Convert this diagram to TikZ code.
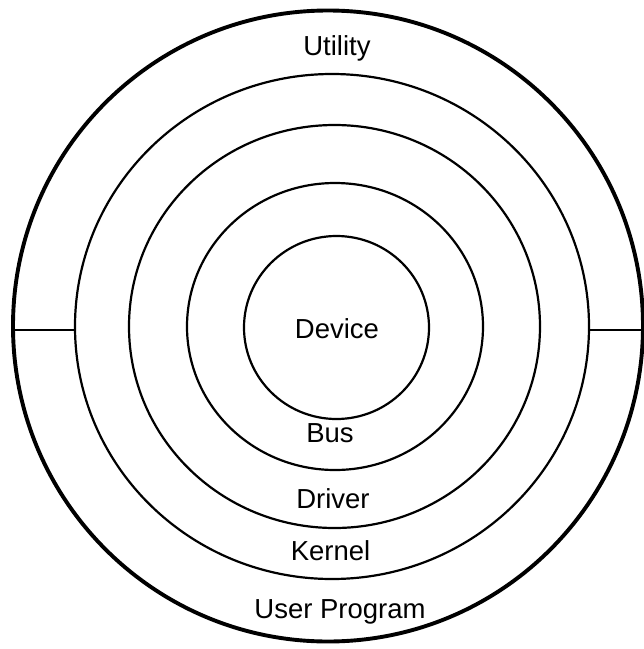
\documentclass[tikz,border=0pt]{standalone}
\usepackage{fontspec}
\setmainfont{Liberation Sans}
\usetikzlibrary{shapes.geometric}
\begin{document}
\begin{tikzpicture}[x=1pt,y=-1pt,
  ring/.style={draw, ellipse, inner sep=0pt, outer sep=0pt, line width=2.2pt},
  outerring/.style={ring, line width=3.9pt},
  lbl/.style={anchor=base, inner sep=0pt, font=\fontsize{27.5}{30}\selectfont},
  divider/.style={line width=2.4pt}]
\useasboundingbox (0,0) rectangle (644,649);
% concentric layers, outermost first
\node[outerring, minimum width=630pt, minimum height=631pt] (user)   at (328,326)   {};
\node[ring, minimum width=514pt, minimum height=505pt]      (kernel) at (332,326.5) {};
\node[ring, minimum width=411pt, minimum height=403pt]      (driver) at (334.5,326.5) {};
\node[ring, minimum width=296pt, minimum height=287pt]      (bus)    at (335,326.5) {};
\node[ring, minimum width=185pt, minimum height=183pt]      (device) at (336.5,327.5) {};
% layer names
\node[lbl] (tUtil)   at (337,55.5)  {Utility};
\node[lbl] (tDevice) at (337,338)   {Device};
\node[lbl] (tBus)    at (330,442.5) {Bus};
\node[lbl] (tDriver) at (333,508)   {Driver};
\node[lbl] (tKernel) at (330.5,560.5) {Kernel};
\node[lbl] (tUser)   at (340,618)   {User Program};
% split between utility and user program
\coordinate (split) at (0,330);
\coordinate (rightEnd) at (644,330);
\draw[divider] (user.west |- split) -- (kernel.west |- split);
\draw[divider] (kernel.east |- split) -- (rightEnd);
\end{tikzpicture}
\end{document}
